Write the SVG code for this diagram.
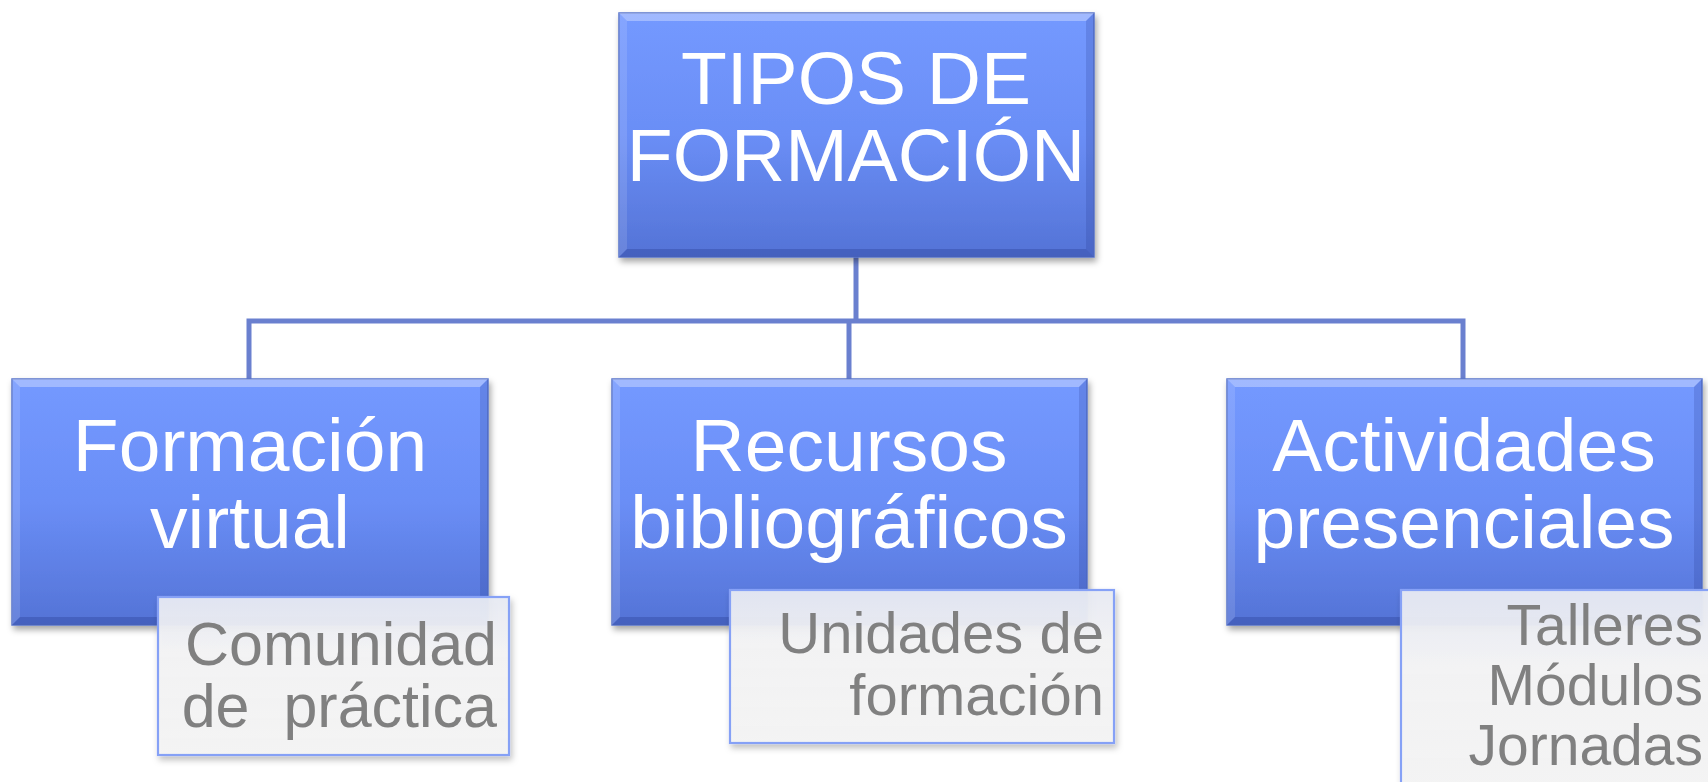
<svg xmlns="http://www.w3.org/2000/svg" width="1708" height="782" viewBox="0 0 1708 782">
<style>
.main{fill:url(#blueGrad);stroke:#5a76cc;stroke-width:1.5;filter:url(#shadow)}
.sub{fill:url(#subGrad);stroke:#86a1f6;stroke-width:2.2;filter:url(#shadow2)}
.bevT{fill:#ffffff;opacity:0.32}
.bevL{fill:#ffffff;opacity:0.12}
.bevR{fill:#1c2f80;opacity:0.18}
.bevB{fill:#1c2f80;opacity:0.28}
.t{font-family:"Liberation Sans",Arial,sans-serif;font-size:75px;fill:#ffffff;text-anchor:middle}
.s{font-family:"Liberation Sans",Arial,sans-serif;fill:#808080;text-anchor:end;white-space:pre}
.conn{fill:none;stroke:#6a80cf;stroke-width:5}
</style>
<defs>
<linearGradient id="blueGrad" x1="0" y1="0" x2="0" y2="1">
<stop offset="0" stop-color="#7499ff"/>
<stop offset="0.5" stop-color="#6a8ef6"/>
<stop offset="1" stop-color="#5473d6"/>
</linearGradient>
<linearGradient id="subGrad" x1="0" y1="0" x2="0" y2="1">
<stop offset="0" stop-color="#e7eaf3" stop-opacity="0.95"/>
<stop offset="0.35" stop-color="#f3f3f4" stop-opacity="0.95"/>
<stop offset="1" stop-color="#f4f4f4" stop-opacity="0.97"/>
</linearGradient>
<filter id="shadow" x="-5%" y="-5%" width="112%" height="115%">
<feDropShadow dx="2" dy="4" stdDeviation="3" flood-color="#000" flood-opacity="0.35"/>
</filter>
<filter id="shadow2" x="-5%" y="-5%" width="112%" height="115%">
<feDropShadow dx="2" dy="4" stdDeviation="3" flood-color="#000" flood-opacity="0.25"/>
</filter>
</defs>
<rect width="1708" height="782" fill="#ffffff"/>
<g id="connectors">
<path class="conn" d="M856 257 V321 M249 379 V321 H1463 V379 M849 321 V379"/>
</g>
<g id="node-tipos">
<rect class="main" x="619" y="13" width="475" height="244"/>
<polygon class="bevT" points="619,13 1094,13 1086,21 627,21"/>
<polygon class="bevL" points="619,13 627,21 627,249 619,257"/>
<polygon class="bevR" points="1094,13 1094,257 1086,249 1086,21"/>
<polygon class="bevB" points="619,257 627,249 1086,249 1094,257"/>
<text class="t" x="856" y="104">TIPOS DE</text>
<text class="t" x="856" y="181">FORMACIÓN</text>
</g>
<g id="node-virtual">
<rect class="main" x="12" y="379" width="476" height="246"/>
<polygon class="bevT" points="12,379 488,379 480,387 20,387"/>
<polygon class="bevL" points="12,379 20,387 20,617 12,625"/>
<polygon class="bevR" points="488,379 488,625 480,617 480,387"/>
<polygon class="bevB" points="12,625 20,617 480,617 488,625"/>
<text class="t" x="250" y="471">Formación</text>
<text class="t" x="250" y="548">virtual</text>
</g>
<g id="node-recursos">
<rect class="main" x="612" y="379" width="475" height="246"/>
<polygon class="bevT" points="612,379 1087,379 1079,387 620,387"/>
<polygon class="bevL" points="612,379 620,387 620,617 612,625"/>
<polygon class="bevR" points="1087,379 1087,625 1079,617 1079,387"/>
<polygon class="bevB" points="612,625 620,617 1079,617 1087,625"/>
<text class="t" x="849" y="471">Recursos</text>
<text class="t" x="849" y="548">bibliográficos</text>
</g>
<g id="node-actividades">
<rect class="main" x="1227" y="379" width="475" height="246"/>
<polygon class="bevT" points="1227,379 1702,379 1694,387 1235,387"/>
<polygon class="bevL" points="1227,379 1235,387 1235,617 1227,625"/>
<polygon class="bevR" points="1702,379 1702,625 1694,617 1694,387"/>
<polygon class="bevB" points="1227,625 1235,617 1694,617 1702,625"/>
<text class="t" x="1464" y="471">Actividades</text>
<text class="t" x="1464" y="548">presenciales</text>
</g>
<g id="sub-comunidad">
<rect class="sub" x="158" y="597" width="351" height="158"/>
<text class="s" x="497" y="665" font-size="61">Comunidad</text>
<text class="s" x="497" y="727" font-size="61">de  práctica</text>
</g>
<g id="sub-unidades">
<rect class="sub" x="730" y="590" width="384" height="153"/>
<text class="s" x="1104" y="653" font-size="58">Unidades de</text>
<text class="s" x="1104" y="715" font-size="58">formación</text>
</g>
<g id="sub-talleres">
<rect class="sub" x="1401" y="590" width="330" height="220"/>
<text class="s" x="1703" y="645" font-size="57">Talleres</text>
<text class="s" x="1703" y="705" font-size="57">Módulos</text>
<text class="s" x="1703" y="765" font-size="57">Jornadas</text>
</g>
</svg>
